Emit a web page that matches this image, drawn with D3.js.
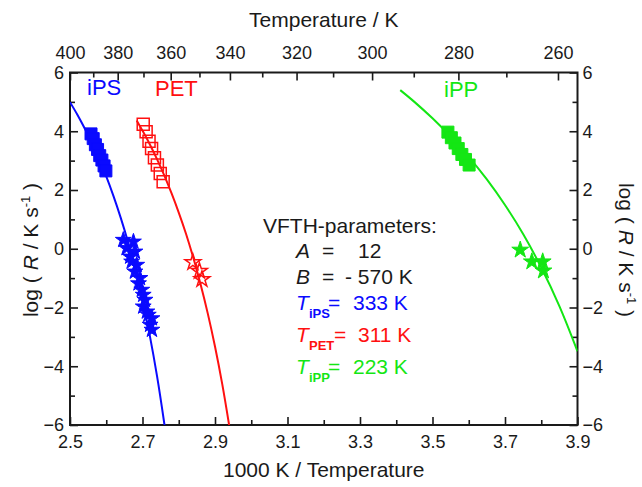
<!DOCTYPE html>
<html>
<head>
<meta charset="utf-8">
<script src="https://cdn.jsdelivr.net/npm/d3@7"></script>
<style>
  html, body { margin: 0; padding: 0; background: #fff; }
  svg { display: block; font-family: "Liberation Sans", Arial, Helvetica, sans-serif; }
</style>
</head>
<body>
<svg id="chart" width="642" height="487"></svg>
<script>
// ---- data: log(R / K s^-1) versus 1000 K / T ----
const ipsSquares = [[2.558,3.91],[2.564,3.75],[2.570,3.54],[2.576,3.38],[2.582,3.17],[2.588,3.02],[2.594,2.82],[2.599,2.65]];
const ipsStars = [[2.647,0.30],[2.675,0.24],[2.656,0.02],[2.679,-0.10],[2.666,-0.27],[2.670,-0.44],[2.684,-0.55],
                  [2.679,-0.78],[2.693,-1.00],[2.689,-1.18],[2.698,-1.40],[2.702,-1.57],[2.707,-1.74],[2.702,-1.97],
                  [2.712,-2.14],[2.716,-2.25],[2.726,-2.37],[2.721,-2.59],[2.726,-2.76]];
const ipsCurve = [[2.50,4.99],[2.52,4.57],[2.54,4.11],[2.56,3.61],[2.58,3.06],[2.60,2.46],[2.62,1.79],[2.64,1.05],
                  [2.66,0.23],[2.68,-0.70],[2.70,-1.75],[2.72,-2.95],[2.74,-4.33],[2.76,-5.94],[2.765,-6.39]];

const petSquares = [[2.702,4.24],[2.710,3.98],[2.718,3.66],[2.725,3.41],[2.733,3.10],[2.741,2.85],[2.749,2.56],[2.757,2.28]];
const petStars = [[2.839,-0.46],[2.857,-0.76],[2.864,-1.04]];
const petCurve = [[2.684,4.37],[2.70,4.02],[2.72,3.56],[2.74,3.05],[2.76,2.50],[2.78,1.89],[2.80,1.23],[2.82,0.51],
                  [2.84,-0.30],[2.86,-1.20],[2.88,-2.20],[2.90,-3.33],[2.92,-4.61],[2.94,-6.08]];

const ippSquares = [[3.5425,3.97],[3.552,3.78],[3.562,3.60],[3.571,3.41],[3.581,3.21],[3.591,3.04],[3.601,2.85]];
const ippStars = [[3.742,-0.04],[3.774,-0.44],[3.804,-0.44],[3.806,-0.75]];
const ippCurve = [[3.411,5.40],[3.45,5.00],[3.50,4.44],[3.55,3.82],[3.60,3.13],[3.65,2.36],[3.70,1.49],[3.75,0.50],
                  [3.80,-0.64],[3.85,-1.95],[3.90,-3.49]];

// ---- axis ticks ----
const xMajorTicks = [2.5, 2.7, 2.9, 3.1, 3.3, 3.5, 3.7, 3.9];
const xMinorTicks = [2.6, 2.8, 3.0, 3.2, 3.4, 3.6, 3.8];
const yMajorTicks = [-6, -4, -2, 0, 2, 4, 6];
const yMinorTicks = [-5, -3, -1, 1, 3, 5];
const tempMajorTicks = [400, 380, 360, 340, 320, 300, 280, 260];
const tempMinorTicks = [390, 370, 350, 330, 310, 290, 270];

// ---- text ----
const seriesNames = ["iPS", "PET", "iPP"];
const paramTitle = "VFTH-parameters:";
const paramSymbols = ["A", "B", "T", "T", "T"];
const paramSubs = ["", "", "iPS", "PET", "iPP"];
const paramValues = ["12", "- 570 K", "333 K", "311 K", "223 K"];

const BLUE = "#0a0aff", RED = "#ff1010", GREEN = "#14e614", INK = "#1a1a1a";
const seriesColors = [BLUE, RED, GREEN];

const svg = d3.select("#chart");
const L = 70, R = 577.5, T = 72.5, B = 425;
const x = d3.scaleLinear().domain([2.5, 3.9]).range([L, R]);
const y = d3.scaleLinear().domain([-6, 6]).range([B, T]);

svg.append("defs").append("clipPath").attr("id", "plotclip")
  .append("rect").attr("x", L).attr("y", T).attr("width", R - L).attr("height", B - T);

// ---- axes (ticks point inward) ----
function styleAxis(g, fontSize) {
  g.select(".domain").remove();
  g.selectAll(".tick line").attr("stroke", INK).attr("stroke-width", 1.6);
  g.selectAll(".tick text").attr("fill", INK).style("font-size", fontSize + "px");
}
const fs = 18;

// bottom
svg.append("g").attr("transform", `translate(0,${B})`)
  .call(d3.axisBottom(x).tickValues(xMajorTicks).tickFormat(d3.format(".1f")).tickSize(-8).tickPadding(10))
  .call(g => styleAxis(g, fs));
svg.append("g").attr("transform", `translate(0,${B})`)
  .call(d3.axisBottom(x).tickValues(xMinorTicks).tickFormat("").tickSize(-5))
  .call(g => styleAxis(g, fs));

// top (temperature)
svg.append("g").attr("transform", `translate(0,${T})`)
  .call(d3.axisTop(x).tickValues(tempMajorTicks.map(t => 1000 / t)).tickFormat(d => Math.round(1000 / d)).tickSize(-8).tickPadding(14))
  .call(g => styleAxis(g, fs));
svg.append("g").attr("transform", `translate(0,${T})`)
  .call(d3.axisTop(x).tickValues(tempMinorTicks.map(t => 1000 / t)).tickFormat("").tickSize(-5))
  .call(g => styleAxis(g, fs));

// left
svg.append("g").attr("transform", `translate(${L},0)`)
  .call(d3.axisLeft(y).tickValues(yMajorTicks).tickFormat(d3.format("d")).tickSize(-8).tickPadding(6))
  .call(g => styleAxis(g, fs));
svg.append("g").attr("transform", `translate(${L},0)`)
  .call(d3.axisLeft(y).tickValues(yMinorTicks).tickFormat("").tickSize(-5))
  .call(g => styleAxis(g, fs));

// right
svg.append("g").attr("transform", `translate(${R},0)`)
  .call(d3.axisRight(y).tickValues(yMajorTicks).tickFormat(d3.format("d")).tickSize(-8).tickPadding(5))
  .call(g => styleAxis(g, fs));
svg.append("g").attr("transform", `translate(${R},0)`)
  .call(d3.axisRight(y).tickValues(yMinorTicks).tickFormat("").tickSize(-5))
  .call(g => styleAxis(g, fs));

// frame
svg.append("rect").attr("x", L).attr("y", T).attr("width", R - L).attr("height", B - T)
  .attr("fill", "none").attr("stroke", INK).attr("stroke-width", 2);

// ---- axis titles ----
svg.append("text").attr("x", (L + R) / 2).attr("y", 27).attr("text-anchor", "middle")
  .attr("fill", INK).style("font-size", "21px").text("Temperature / K");
svg.append("text").attr("x", (L + R) / 2).attr("y", 477).attr("text-anchor", "middle")
  .attr("fill", INK).style("font-size", "21px").text("1000 K / Temperature");

function rateTitle(g) {
  const t = g.append("text").attr("text-anchor", "middle").attr("fill", INK).style("font-size", "21px");
  t.append("tspan").text("log ( ");
  t.append("tspan").style("font-style", "italic").text("R");
  t.append("tspan").text(" / K s");
  t.append("tspan").attr("dy", -8).style("font-size", "13px").text("-1");
  t.append("tspan").attr("dy", 8).text(" )");
}
svg.append("g").attr("transform", "translate(38,250) rotate(-90)").call(rateTitle);
svg.append("g").attr("transform", "translate(619,250) rotate(90)").call(rateTitle);

// ---- curves ----
const line = d3.line().x(d => x(d[0])).y(d => y(d[1])).curve(d3.curveCatmullRom);
const plot = svg.append("g").attr("clip-path", "url(#plotclip)");
[ipsCurve, petCurve, ippCurve].forEach((c, i) => {
  plot.append("path").datum(c).attr("d", line).attr("fill", "none")
    .attr("stroke", seriesColors[i]).attr("stroke-width", 2);
});

// ---- markers ----
const sq = d3.symbol(d3.symbolSquare, 144);
const star = d3.symbol(d3.symbolStar, 78);
const bigStar = d3.symbol(d3.symbolStar, 88);

function markers(data, sym, color, filled) {
  svg.append("g").selectAll("path").data(data).join("path")
    .attr("transform", d => `translate(${x(d[0])},${y(d[1])})`)
    .attr("d", sym)
    .attr("fill", filled ? color : "none")
    .attr("stroke", color)
    .attr("stroke-width", filled ? 1 : 1.5)
    .attr("stroke-linejoin", "miter");
}
markers(ipsSquares, sq, BLUE, true);
markers(ipsStars, star, BLUE, true);
markers(petSquares, sq, RED, false);
markers(petStars, star, RED, false);
markers(ippSquares, sq, GREEN, true);
markers(ippStars, bigStar, GREEN, true);

// ---- series labels ----
const labelPos = [[87, 95], [155, 96], [444, 97]];
seriesNames.forEach((n, i) => {
  svg.append("text").attr("x", labelPos[i][0]).attr("y", labelPos[i][1])
    .attr("fill", seriesColors[i]).style("font-size", "22px").text(n);
});

// ---- VFTH parameter block ----
svg.append("text").attr("x", 263).attr("y", 233).attr("fill", INK)
  .style("font-size", "21px").text(paramTitle);
const rowY = [258, 284, 310, 342, 374];
const eqX = [322, 322, 328, 334, 328];
const valX = [358, 345, 353, 358, 353];
const rowColor = [INK, INK, BLUE, RED, GREEN];
paramSymbols.forEach((s, i) => {
  const g = svg.append("g").attr("fill", rowColor[i]).style("font-size", "21px");
  g.append("text").attr("x", 296).attr("y", rowY[i]).style("font-style", "italic").text(s);
  if (paramSubs[i]) {
    g.append("text").attr("x", 309).attr("y", rowY[i] + 8)
      .style("font-size", "13px").style("font-weight", "bold").text(paramSubs[i]);
  }
  g.append("text").attr("x", eqX[i]).attr("y", rowY[i]).text("=");
  g.append("text").attr("x", valX[i]).attr("y", rowY[i]).text(paramValues[i]);
});
</script>
</body>
</html>
